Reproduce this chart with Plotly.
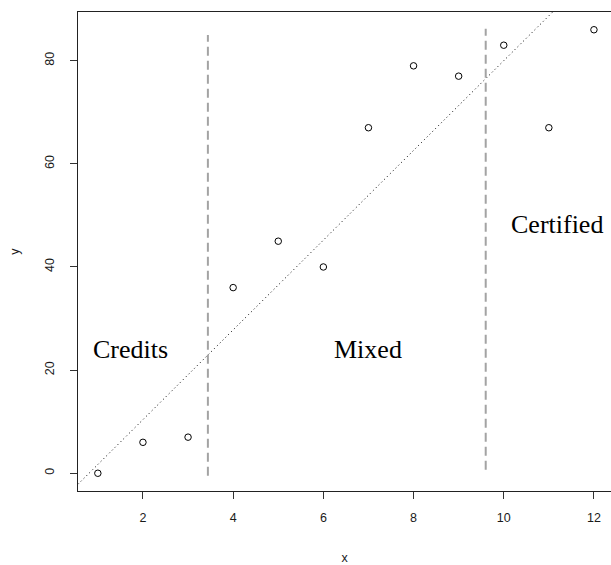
import plotly.graph_objects as go

# Observations
x_vals = [1, 2, 3, 4, 5, 6, 7, 8, 9, 10, 11, 12]
y_vals = [0, 6, 7, 36, 45, 40, 67, 79, 77, 83, 67, 86]

# Reference line y = a + b * x
line_intercept = -7.0
line_slope = 8.7

# Vertical boundaries between regimes (x position, y start, y end)
boundary_x = [3.44, 9.60]
boundary_y0 = [-0.5, 0.7]
boundary_y1 = [85.0, 86.2]

# Region labels
region_names = ["Credits", "Mixed", "Certified"]
region_x = [1.73, 7.0, 11.18]
region_y = [24.0, 24.0, 48.3]

x_ticks = [2, 4, 6, 8, 10, 12]
y_ticks = [0, 20, 40, 60, 80]

x_range = [0.56, 12.378]
y_range = [-3.44, 89.44]

fig = go.Figure()

# dotted reference line across the full plotting width
line_x = [x_range[0], x_range[1]]
line_y = [line_intercept + line_slope * v for v in line_x]
fig.add_trace(go.Scatter(
    x=line_x, y=line_y, mode="lines",
    line=dict(color="black", width=1, dash="1px,3px"),
    hoverinfo="skip", showlegend=False,
))

# dashed regime boundaries
for bx, b0, b1 in zip(boundary_x, boundary_y0, boundary_y1):
    fig.add_trace(go.Scatter(
        x=[bx, bx], y=[b0, b1], mode="lines",
        line=dict(color="#a3a3a3", width=2, dash="9px,5px"),
        hoverinfo="skip", showlegend=False,
    ))

# open-circle points
fig.add_trace(go.Scatter(
    x=x_vals, y=y_vals, mode="markers",
    marker=dict(symbol="circle-open", size=6.5, color="black", line=dict(width=1)),
    showlegend=False,
))

for name, tx, ty in zip(region_names, region_x, region_y):
    fig.add_annotation(
        x=tx, y=ty, text=name, showarrow=False,
        xanchor="center", yanchor="middle",
        font=dict(family="Liberation Serif, Times New Roman, serif", size=26, color="black"),
    )

tick_font = dict(family="Liberation Sans, Arial, sans-serif", size=12.5, color="#1a1a1a")

fig.update_layout(
    width=611, height=565,
    margin=dict(l=78, r=0, t=12, b=74),
    paper_bgcolor="white", plot_bgcolor="white",
    xaxis=dict(
        range=x_range, tickvals=x_ticks, ticks="outside", ticklen=7, tickwidth=1,
        tickcolor="#333", showgrid=False, zeroline=False,
        showline=True, linecolor="#222", linewidth=1, mirror=True,
        tickfont=tick_font, ticklabelstandoff=8,
        title=dict(text="x", font=tick_font, standoff=31),
    ),
    yaxis=dict(
        range=y_range, tickvals=y_ticks, ticks="outside", ticklen=7, tickwidth=1,
        tickcolor="#333", showgrid=False, zeroline=False,
        showline=True, linecolor="#222", linewidth=1, mirror=False,
        tickfont=tick_font, tickangle=-90, ticklabelstandoff=11,
        title=dict(text="y", font=tick_font, standoff=20),
    ),
)

fig.write_html("out.html")
